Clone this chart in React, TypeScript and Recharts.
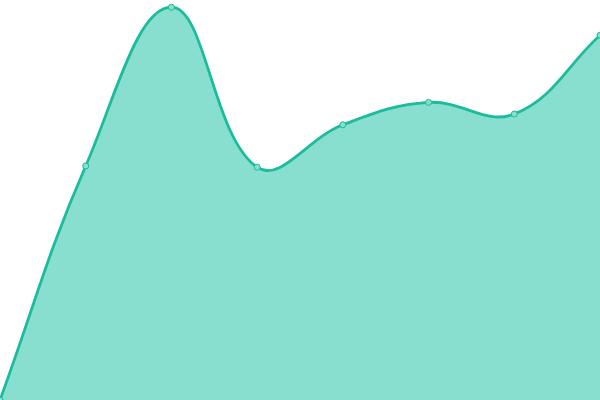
import { AreaChart, Area, XAxis, YAxis } from 'recharts'

const labels = ['A', 'B', 'C', 'D', 'E', 'F', 'G', 'H']
const values = [0, 58.5, 98.2, 58.2, 68.8, 74.4, 71.5, 91.2]

const chartData = labels.map((name, i) => ({ name, value: values[i] }))

// spline like the chart.js default (tension 0.4), since recharts has no cardinal curve
function splineCurve(tension: number) {
  return (context: any) => {
    let pts: Array<[number, number]> = []
    let line = NaN
    return {
      areaStart() { line = 0 },
      areaEnd() { line = NaN },
      lineStart() { pts = [] },
      point(x: number, y: number) { pts.push([+x, +y]) },
      lineEnd() {
        const n = pts.length
        if (n) {
          if (line) context.lineTo(pts[0][0], pts[0][1])
          else context.moveTo(pts[0][0], pts[0][1])
          const cps = pts.map((cur, i) => {
            const prev = pts[i - 1] || cur
            const next = pts[i + 1] || cur
            const d01 = Math.hypot(cur[0] - prev[0], cur[1] - prev[1])
            const d12 = Math.hypot(next[0] - cur[0], next[1] - cur[1])
            const sum = d01 + d12
            const fa = sum ? (d01 / sum) * tension : 0
            const fb = sum ? (d12 / sum) * tension : 0
            const dx = next[0] - prev[0]
            const dy = next[1] - prev[1]
            return {
              prev: [cur[0] - fa * dx, cur[1] - fa * dy],
              next: [cur[0] + fb * dx, cur[1] + fb * dy],
            }
          })
          for (let i = 1; i < n; i++) {
            const a = cps[i - 1].next
            const b = cps[i].prev
            context.bezierCurveTo(a[0], a[1], b[0], b[1], pts[i][0], pts[i][1])
          }
        }
        if (line || (line !== 0 && n === 1)) context.closePath()
        line = 1 - line
      },
    }
  }
}

const curve = splineCurve(0.4)

export default function App() {
  return (
    <div style={{ position: 'absolute', left: 0, top: 0, width: 600, height: 400 }}>
      <AreaChart
        width={600}
        height={400}
        data={chartData}
        margin={{ top: 0, right: 0, bottom: 0, left: 0 }}
      >
        <XAxis dataKey="name" hide padding={{ left: 0, right: 0 }} />
        <YAxis hide domain={[0, 100]} />
        <Area
          type={curve as any}
          dataKey="value"
          stroke="#1abc9c"
          strokeWidth={2.8}
          fill="#88dfcf"
          fillOpacity={1}
          dot={{ r: 3, fill: '#88dfcf', stroke: '#1abc9c', strokeWidth: 1, fillOpacity: 1 }}
          activeDot={false}
          isAnimationActive={false}
        />
      </AreaChart>
    </div>
  )
}
